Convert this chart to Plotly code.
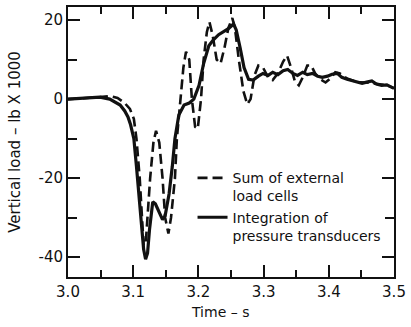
import plotly.graph_objects as go

# Integration of pressure transducers (solid)
t_solid = [3.000, 3.019, 3.034, 3.049, 3.064, 3.072, 3.080, 3.087, 3.092, 3.096,
           3.101, 3.105, 3.110, 3.113, 3.116, 3.119, 3.122, 3.125, 3.130, 3.134,
           3.139, 3.145, 3.149, 3.155, 3.160, 3.164, 3.170, 3.178, 3.186, 3.193,
           3.201, 3.208, 3.216, 3.223, 3.231, 3.239, 3.246, 3.254, 3.258, 3.264,
           3.270, 3.277, 3.284, 3.292, 3.299, 3.307, 3.314, 3.322, 3.330, 3.337,
           3.345, 3.352, 3.360, 3.367, 3.375, 3.383, 3.390, 3.398, 3.405, 3.413,
           3.420, 3.428, 3.436, 3.443, 3.451, 3.458, 3.466, 3.473, 3.481, 3.489,
           3.496, 3.500]
v_solid = [0.0, 0.2, 0.3, 0.5, 0.0, -0.7, -1.5, -3.0, -4.5, -6.5,
           -10.0, -17.0, -26.0, -33.0, -38.0, -40.5, -39.0, -33.0, -26.0, -26.5,
           -28.5, -30.5, -29.5, -24.0, -17.0, -10.0, -4.0, -1.5, -1.0, 0.0,
           3.5, 9.0, 13.5, 15.0, 16.3, 17.0, 17.8, 19.0, 17.5, 13.0,
           8.0, 5.0, 4.8, 5.8, 6.5, 6.0, 6.8, 6.2, 7.2, 7.5,
           6.5, 6.0, 6.8, 6.2, 6.5, 5.8, 5.5, 5.8, 6.3, 6.5,
           5.5, 5.0, 4.6, 4.3, 4.0, 4.3, 4.6, 3.8, 3.5, 3.6,
           3.0, 2.7]

# Sum of external load cells (dashed)
t_dash = [3.000, 3.034, 3.049, 3.064, 3.076, 3.087, 3.095, 3.101, 3.105, 3.110,
          3.113, 3.116, 3.119, 3.122, 3.126, 3.131, 3.135, 3.140, 3.145, 3.149,
          3.154, 3.158, 3.164, 3.167, 3.172, 3.177, 3.181, 3.186, 3.190, 3.195,
          3.199, 3.204, 3.208, 3.213, 3.217, 3.222, 3.228, 3.234, 3.240, 3.246,
          3.252, 3.256, 3.262, 3.269, 3.275, 3.280, 3.286, 3.292, 3.299, 3.307,
          3.314, 3.322, 3.330, 3.336, 3.342, 3.348, 3.354, 3.360, 3.367, 3.373,
          3.379, 3.387, 3.395, 3.402, 3.410, 3.417, 3.428, 3.443, 3.458, 3.473,
          3.489, 3.500]
v_dash = [0.0, 0.3, 0.5, 0.8, 0.3, -1.0, -2.5, -5.0, -10.0, -20.0,
          -30.0, -37.0, -37.0, -30.0, -20.0, -11.0, -8.0, -11.0, -20.0, -30.0,
          -34.0, -30.0, -20.0, -10.0, 0.0, 8.0, 12.0, 10.0, 0.0, -7.0,
          -7.5, 0.0, 10.0, 17.0, 19.5, 16.0, 10.0, 9.0, 13.0, 18.0,
          20.5, 18.0, 10.0, 2.0, -1.3, 0.0, 6.0, 8.5, 8.0, 5.5,
          4.8, 6.5, 9.5, 11.0, 8.0, 4.5, 3.5, 5.5, 8.5, 8.5,
          6.5, 5.0, 4.2, 5.2, 6.8, 6.5, 5.2, 4.3, 4.2, 3.8,
          3.5, 2.8]

x_ticks = [3.0, 3.1, 3.2, 3.3, 3.4, 3.5]
x_ticklabels = ["3.0", "3.1", "3.2", "3.3", "3.4", "3.5"]
y_ticks = [20, 0, -20, -40]
y_ticklabels = ["20", "0", "-20", "-40"]

FONT = "DejaVu Sans"
INK = "#111111"

fig = go.Figure()
fig.add_trace(go.Scatter(
    x=t_dash, y=v_dash, mode="lines",
    name="Sum of external<br>load cells",
    line=dict(color=INK, width=2.6, dash="10px,5px"),
))
fig.add_trace(go.Scatter(
    x=t_solid, y=v_solid, mode="lines",
    name="Integration of<br>pressure transducers",
    line=dict(color=INK, width=3.2),
))

fig.update_layout(
    width=411, height=327,
    margin=dict(l=68, r=13, t=5, b=50),
    paper_bgcolor="white", plot_bgcolor="white",
    font=dict(family=FONT, size=14, color=INK),
    showlegend=True,
    legend=dict(
        x=0.382, y=0.425, xanchor="left", yanchor="top",
        bgcolor="rgba(0,0,0,0)", borderwidth=0,
        font=dict(family=FONT, size=14, color=INK),
        valign="top", tracegroupgap=4,
    ),
    xaxis=dict(
        range=[3.0, 3.5], tickvals=x_ticks, ticktext=x_ticklabels,
        ticks="inside", ticklen=12, tickwidth=1.5, tickcolor=INK,
        showline=True, linecolor=INK, linewidth=2, mirror="ticks",
        showgrid=False, zeroline=False,
        minor=dict(dtick=0.05, tick0=3.0, ticks="inside", ticklen=7,
                   tickwidth=1.5, tickcolor=INK, showgrid=False),
        tickfont=dict(family=FONT, size=15, color=INK),
    ),
    yaxis=dict(
        range=[-45, 23.3], tickvals=y_ticks, ticktext=y_ticklabels,
        ticks="inside", ticklen=12, tickwidth=1.5, tickcolor=INK,
        showline=True, linecolor=INK, linewidth=2, mirror="ticks",
        showgrid=False, zeroline=False,
        minor=dict(dtick=10, tick0=0, ticks="inside", ticklen=9,
                   tickwidth=1.5, tickcolor=INK, showgrid=False),
        tickfont=dict(family=FONT, size=15, color=INK),
        title=dict(text="Vertical load – lb X 1000", font=dict(family=FONT, size=15, color=INK), standoff=14),
    ),
    annotations=[dict(
        text="Time – s", xref="paper", yref="paper",
        x=0.467, y=-0.13, xanchor="center", yanchor="middle",
        showarrow=False, font=dict(family=FONT, size=14, color=INK),
    )],
)

fig.write_html(
    "out.html",
    config={"displayModeBar": False},
    post_script="document.body.style.margin='0';document.body.style.padding='0';",
)
